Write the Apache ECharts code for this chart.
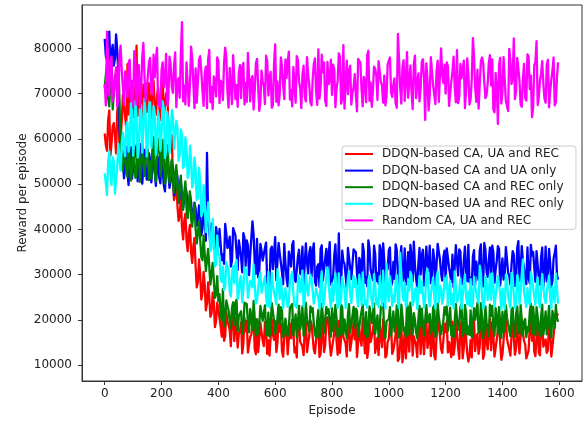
<!DOCTYPE html>
<html>
<head>
<meta charset="utf-8">
<script src="https://cdn.jsdelivr.net/npm/echarts@6/dist/echarts.min.js"></script>
<style>html,body{margin:0;padding:0;background:#fff;}#c{width:587px;height:422px;}</style>
</head>
<body>
<div id="c"></div>
<script>
// Episodes (every 8 episodes, plus the in-between samples)
const episodes = [
0,8,16,24,32,40,48,56,64,72,80,88,96,104,112,120,128,136,144,152,
160,168,176,184,192,200,208,216,224,232,240,248,256,264,272,280,288,296,304,312,
320,328,336,344,352,360,368,376,384,392,400,408,416,424,432,440,448,456,464,472,
480,488,496,504,512,520,528,536,544,552,560,568,576,584,592,600,608,616,624,632,
640,648,656,664,672,680,688,696,704,712,720,728,736,744,752,760,768,776,784,792,
800,808,816,824,832,840,848,856,864,872,880,888,896,904,912,920,928,936,944,952,
960,968,976,984,992,1000,1008,1016,1024,1032,1040,1048,1056,1064,1072,1080,1088,1096,1104,1112,
1120,1128,1136,1144,1152,1160,1168,1176,1184,1192,1200,1208,1216,1224,1232,1240,1248,1256,1264,1272,
1280,1288,1296,1304,1312,1320,1328,1336,1344,1352,1360,1368,1376,1384,1392,1400,1408,1416,1424,1432,
1440,1448,1456,1464,1472,1480,1488,1496,1504,1512,1520,1528,1536,1544,1552,1560,1568,1576,1584,1592
];
const episodesMid = [
4,12,20,28,36,44,52,60,68,76,84,92,100,108,116,124,132,140,148,156,
164,172,180,188,196,204,212,220,228,236,244,252,260,268,276,284,292,300,308,316,
324,332,340,348,356,364,372,380,388,396,404,412,420,428,436,444,452,460,468,476,
484,492,500,508,516,524,532,540,548,556,564,572,580,588,596,604,612,620,628,636,
644,652,660,668,676,684,692,700,708,716,724,732,740,748,756,764,772,780,788,796,
804,812,820,828,836,844,852,860,868,876,884,892,900,908,916,924,932,940,948,956,
964,972,980,988,996,1004,1012,1020,1028,1036,1044,1052,1060,1068,1076,1084,1092,1100,1108,1116,
1124,1132,1140,1148,1156,1164,1172,1180,1188,1196,1204,1212,1220,1228,1236,1244,1252,1260,1268,1276,
1284,1292,1300,1308,1316,1324,1332,1340,1348,1356,1364,1372,1380,1388,1396,1404,1412,1420,1428,1436,
1444,1452,1460,1468,1476,1484,1492,1500,1508,1516,1524,1532,1540,1548,1556,1564,1572,1580,1588,1596
];

// Reward values in thousands, at `episodes`
const redVals = [
61.2,57.4,66.3,59.0,63.5,56.8,67.9,60.4,69.8,64.7,
76.5,68.2,71.4,66.9,80.6,69.3,67.5,72.0,66.4,70.1,
68.0,71.8,66.6,69.5,67.2,72.6,65.1,69.9,63.2,58.7,
51.4,47.8,45.2,43.1,40.5,41.8,37.6,39.2,34.9,36.3,
31.7,28.4,30.2,25.9,27.8,23.6,25.1,21.4,23.9,19.8,
22.3,18.6,20.9,16.4,19.5,17.8,21.6,15.3,18.2,16.9,
19.4,14.7,17.5,12.8,16.2,18.9,13.6,20.1,15.8,17.1,
14.2,18.0,15.5,12.3,16.8,19.7,14.9,17.4,13.1,16.0,
18.4,12.0,15.9,17.7,13.9,20.3,15.2,14.1,17.9,12.9,
16.5,19.1,13.4,15.6,18.3,12.6,16.9,14.5,20.6,15.0,
13.7,17.2,15.4,19.8,12.4,16.3,14.8,18.6,13.2,17.0,
15.7,11.8,18.1,14.3,16.6,20.0,13.5,15.1,17.6,12.7,
16.1,19.3,14.0,17.3,12.2,15.8,18.5,13.3,16.7,10.9,
14.6,10.6,17.8,15.3,13.0,19.0,16.4,14.4,18.0,12.5,
15.9,17.5,13.8,20.4,14.7,12.1,16.2,18.8,13.6,15.5,
17.3,12.8,15.0,19.6,14.2,16.8,11.4,17.9,13.9,16.1,
10.8,15.6,18.2,13.1,16.9,14.0,19.2,12.6,15.2,17.4,
13.3,16.4,11.9,17.7,14.9,12.4,18.7,15.8,13.5,16.6,
19.5,13.8,16.0,12.2,17.1,14.6,11.3,18.3,15.4,13.0,
16.3,12.7,18.9,14.1,15.7,13.4,17.5,12.3,19.4,21.0
];
// Reward values in thousands, at `episodesMid`
const redMid = [
58.6,64.1,56.3,62.8,60.7,66.0,58.2,63.9,67.3,62.5,
65.4,72.6,64.8,71.9,65.1,73.0,64.5,71.5,65.9,72.3,
64.6,72.8,65.3,71.2,64.2,73.4,64.9,70.6,57.9,60.8,
46.5,51.6,41.9,47.0,37.8,43.5,35.2,41.0,32.6,38.1,
27.2,33.4,24.5,30.6,22.1,28.3,20.7,26.0,18.4,23.8,
22.6,16.3,15.4,21.8,18.9,14.2,21.0,20.4,13.9,17.6,
12.6,20.5,19.8,13.1,16.7,20.9,12.4,12.9,19.4,15.5,
19.5,12.5,12.1,20.1,15.6,12.9,20.4,19.2,11.9,16.2,
12.4,19.1,20.0,12.8,11.7,19.7,15.3,12.2,20.5,14.8,
19.9,19.4,12.6,15.9,11.8,20.3,12.9,19.6,19.0,12.1,
13.4,19.8,12.3,12.7,19.2,16.1,11.9,20.2,13.0,19.5,
19.1,12.0,15.8,20.4,12.6,11.6,19.9,14.9,20.3,12.4,
12.2,19.4,20.1,11.7,15.2,19.7,12.5,13.3,20.2,11.4,
19.3,13.6,11.5,19.8,20.5,12.1,16.0,11.8,19.2,19.0,
12.4,19.9,15.5,12.0,19.5,11.3,20.0,16.4,12.7,19.1,
19.7,15.1,11.8,12.3,20.2,13.8,19.4,11.5,20.1,12.6,
12.2,11.7,19.6,16.3,12.5,20.4,11.4,19.8,13.5,20.2,
19.5,11.9,15.7,20.0,11.2,12.8,20.3,14.6,12.1,19.7,
12.3,19.9,12.6,20.1,15.4,11.5,13.2,20.4,19.6,12.0,
19.8,12.2,20.0,14.3,12.7,19.4,11.9,16.6,20.6,21.4
];

const blueVals = [
82.1,77.4,83.7,79.0,76.2,83.1,74.5,58.3,54.6,56.9,
52.7,57.4,51.2,55.8,58.6,50.3,56.1,53.5,57.9,52.1,
55.3,50.8,57.2,53.9,51.4,56.7,49.8,54.2,52.5,50.6,
53.1,48.9,51.7,47.2,50.4,46.6,48.3,44.9,46.1,43.2,
44.6,41.8,43.9,40.2,42.7,56.9,39.6,41.3,37.8,40.5,
36.2,39.8,34.5,41.2,35.9,38.4,33.1,40.6,35.0,37.6,
33.8,39.2,31.9,36.5,34.2,41.8,32.6,37.9,30.8,35.3,
33.4,37.1,29.7,35.6,31.2,38.3,28.9,34.7,30.5,36.8,
29.2,35.1,31.8,37.4,28.4,33.9,30.1,36.2,27.8,32.7,
34.8,29.5,36.9,27.6,32.3,35.7,28.7,33.5,30.9,37.2,
28.1,34.3,30.6,39.1,27.3,33.0,29.8,35.9,31.5,28.6,
36.0,30.2,33.7,27.9,35.2,29.4,37.6,31.1,28.8,34.6,
30.4,36.5,28.2,33.2,31.7,35.4,27.5,32.8,36.7,29.9,
33.6,28.5,35.8,30.7,27.4,34.1,37.3,29.1,32.4,30.0,
35.5,28.0,32.0,36.4,29.6,33.3,27.7,35.0,30.3,33.8,
28.3,36.1,31.4,34.4,27.2,32.9,35.6,29.0,33.1,30.8,
36.6,29.3,34.0,27.8,32.5,35.3,28.6,37.0,30.6,33.4,
28.9,34.9,31.0,36.3,27.6,33.6,30.2,35.7,29.7,32.2,
34.5,28.4,37.4,30.9,33.0,29.3,36.0,28.1,34.2,31.6,
35.2,29.0,33.9,27.4,36.2,30.5,32.6,28.7,34.8,29.8
];
const blueMid = [
78.3,82.6,75.9,80.8,77.8,79.6,62.4,55.7,51.3,58.2,
49.8,58.2,51.5,57.3,50.6,58.9,50.1,57.6,51.0,56.8,
50.4,57.0,49.6,55.9,50.2,56.3,48.4,54.8,49.2,55.0,
47.6,53.0,45.9,50.7,44.8,49.2,43.6,47.8,42.1,45.9,
40.8,45.3,38.7,43.6,37.5,42.4,36.4,41.6,35.2,40.9,
40.1,33.2,32.4,39.0,36.5,31.8,40.3,38.7,31.0,35.8,
30.5,38.1,37.6,29.9,34.0,38.9,30.2,29.4,36.8,33.1,
35.9,28.1,27.6,36.2,31.4,28.8,37.0,35.1,27.9,32.6,
27.4,34.8,36.6,29.2,28.0,35.5,32.1,27.7,36.9,30.3,
36.1,35.2,28.5,31.8,27.3,36.5,28.9,35.7,34.4,27.8,
29.6,36.7,27.5,28.4,35.3,32.4,27.1,36.3,29.0,35.6,
34.9,27.9,32.8,36.8,28.2,27.4,35.8,30.7,36.4,28.6,
28.0,35.4,36.9,27.6,31.2,36.0,28.3,29.1,35.5,27.2,
36.3,29.4,27.8,35.0,36.6,28.5,32.0,27.3,35.9,34.2,
27.6,36.2,30.9,28.1,35.6,27.5,36.8,33.4,28.7,35.3,
35.8,31.6,28.4,27.2,36.5,29.8,35.1,27.9,36.2,28.6,
28.3,27.7,35.4,32.9,28.8,36.7,27.4,35.6,29.5,36.0,
36.4,28.2,33.1,35.7,27.3,28.9,36.1,30.4,27.8,35.2,
27.5,35.9,28.6,36.3,31.5,27.9,29.3,36.6,35.0,28.4,
35.3,27.8,36.0,30.1,28.5,35.7,27.2,33.6,36.4,28.9
];

const greenVals = [
71.3,76.4,67.2,78.0,69.8,74.5,77.4,57.1,53.0,56.4,
51.6,55.9,53.2,58.4,52.0,56.7,54.1,59.3,51.9,57.5,
55.0,58.8,52.7,56.2,60.1,53.6,57.3,51.5,55.4,53.0,
50.9,52.6,48.7,50.1,46.4,48.2,44.6,45.9,42.3,43.8,
40.1,36.8,37.9,33.2,34.6,30.5,31.9,27.4,28.8,25.6,
24.2,21.5,26.8,20.3,23.1,19.6,22.7,18.9,24.5,20.8,
21.9,18.2,23.6,19.4,22.4,17.8,24.0,20.1,18.7,22.8,
19.8,17.3,21.6,18.5,23.3,16.9,20.4,19.0,22.1,17.6,
20.7,18.1,22.5,16.6,21.2,19.3,17.9,23.0,18.4,20.0,
17.4,21.8,19.1,16.2,22.2,18.6,20.6,17.0,21.4,19.5,
22.6,17.7,20.3,18.0,23.4,16.8,19.9,21.1,17.2,20.9,
18.3,22.0,16.4,20.5,18.8,21.7,17.5,23.1,19.2,16.9,
21.0,18.4,22.9,17.1,19.7,20.2,16.5,21.9,18.9,22.3,
17.8,20.8,18.2,23.5,16.7,19.6,21.5,17.3,20.1,18.6,
22.4,16.3,19.4,21.3,17.9,23.2,18.1,20.7,16.8,19.8,
21.2,17.6,22.7,18.7,16.1,20.4,19.0,23.6,17.4,21.6,
18.5,22.1,16.6,20.0,23.8,17.7,21.0,18.3,19.5,16.4,
20.9,18.0,22.6,16.9,19.3,21.8,17.1,20.5,18.8,22.2,
17.5,21.4,19.1,23.3,16.5,20.2,18.4,21.7,17.0,19.9,
22.8,18.6,20.6,16.7,21.9,19.4,17.8,22.0,18.2,20.4
];
const greenMid = [
74.2,68.9,72.6,66.5,73.8,70.1,68.4,54.2,58.9,52.4,
59.6,50.8,58.7,51.4,60.2,50.5,59.0,51.8,58.3,50.9,
51.2,60.4,50.6,59.5,51.8,59.8,50.1,58.6,50.3,55.4,
48.1,54.2,46.0,51.9,44.3,50.6,42.5,48.4,40.6,45.7,
36.9,41.8,33.9,38.6,30.8,35.7,27.8,32.6,24.9,29.7,
25.7,19.9,18.6,24.3,22.1,18.1,23.9,23.7,17.5,21.0,
16.9,23.8,23.5,17.3,20.6,24.2,16.6,17.0,23.1,19.8,
23.2,16.6,16.3,23.7,19.8,16.9,23.4,22.8,16.2,20.3,
16.4,22.7,23.5,17.0,16.1,23.1,19.6,16.5,23.8,18.9,
23.0,22.6,16.8,19.9,16.0,23.6,17.1,22.9,22.4,16.3,
17.5,23.3,16.2,16.7,22.8,20.1,16.0,23.5,17.2,22.9,
22.5,16.4,20.4,23.4,16.9,16.1,23.0,19.3,23.6,16.6,
16.2,22.9,23.7,16.0,19.5,22.8,16.7,17.4,23.2,16.1,
23.4,17.6,16.3,22.6,23.8,16.8,20.0,16.0,23.1,22.5,
16.5,23.3,19.4,16.9,22.7,16.2,23.6,20.6,17.0,22.8,
23.0,19.7,16.6,16.1,23.5,17.8,22.9,16.4,23.3,16.8,
16.7,16.2,22.6,20.2,17.1,23.7,16.0,23.0,17.7,23.4,
23.1,16.5,20.5,22.8,16.0,17.3,23.2,19.0,16.4,22.7,
16.3,23.0,16.9,23.5,19.6,16.2,17.5,23.6,22.9,16.6,
22.8,16.4,23.4,18.8,16.8,23.1,16.1,20.7,23.3,19.6
];

const cyanVals = [
52.4,47.6,57.3,49.8,55.1,48.2,58.9,53.0,61.4,56.2,
63.8,58.7,66.2,60.1,64.9,57.6,67.5,61.7,65.3,59.4,
68.1,62.0,65.7,58.9,64.1,61.2,66.8,57.4,63.5,60.3,
65.2,58.2,62.6,56.4,60.8,54.1,57.9,52.3,55.6,50.2,
53.4,47.1,50.6,43.8,46.2,39.5,41.7,35.9,38.3,32.4,
34.6,29.2,31.8,27.5,32.9,26.3,30.4,28.1,33.2,25.9,
29.7,26.8,31.5,24.9,28.6,27.2,32.1,24.3,29.4,26.0,
28.3,25.1,30.6,23.8,27.7,26.4,31.2,24.6,28.9,25.5,
27.1,24.0,29.8,25.7,23.2,28.2,26.1,30.9,24.4,27.4,
25.3,29.1,23.6,26.9,24.8,28.5,22.9,27.0,31.6,25.0,
28.0,23.9,26.6,30.3,24.5,27.6,22.6,29.3,25.8,23.5,
27.3,25.2,30.0,23.3,26.7,24.2,28.8,25.6,22.8,27.9,
24.7,29.6,23.1,26.2,32.4,24.1,27.5,25.4,28.4,23.7,
34.8,25.9,28.1,23.4,26.5,29.9,24.3,27.2,22.7,26.0,
28.6,24.6,31.3,23.0,27.8,25.3,29.5,23.9,26.8,24.9,
27.0,23.2,28.7,25.7,30.7,24.0,26.4,22.5,28.0,25.1,
26.3,29.0,23.6,27.3,24.7,32.0,25.4,23.3,28.3,26.1,
24.4,27.7,23.0,29.7,25.8,26.9,22.4,28.6,24.9,30.4,
25.6,23.8,28.9,26.2,33.4,24.5,27.1,23.4,29.2,25.2,
27.8,24.1,26.6,30.1,23.7,28.2,25.0,27.4,23.9,26.9
];
const cyanMid = [
50.1,54.8,52.6,56.0,47.9,53.7,55.4,59.2,57.8,62.9,
57.2,67.8,56.3,68.4,55.9,66.7,57.0,68.9,56.1,67.3,
58.0,67.2,56.5,66.0,57.4,68.3,55.8,65.9,56.9,66.4,
57.8,64.0,55.2,62.1,53.6,60.4,51.4,58.5,49.3,55.9,
46.5,53.6,42.9,49.8,39.4,46.0,35.2,42.3,31.8,38.7,
34.1,28.4,26.6,32.8,31.0,25.2,31.9,32.4,24.6,28.9,
23.9,31.7,30.8,24.5,27.9,32.2,23.6,24.0,30.5,27.4,
29.6,23.1,22.8,30.4,26.2,23.5,31.0,29.2,22.6,27.0,
22.9,28.8,30.6,23.4,22.7,29.9,26.8,23.0,30.2,25.4,
30.0,29.1,23.2,26.5,22.5,30.7,23.6,29.4,28.6,22.8,
24.1,30.3,22.6,23.3,29.5,26.9,22.4,30.8,23.7,29.7,
28.9,23.0,27.2,30.5,23.4,22.7,29.8,25.6,30.1,23.5,
22.8,29.3,30.9,22.5,26.1,29.6,23.1,24.0,29.9,22.6,
30.2,24.3,22.9,29.0,30.6,23.3,26.6,22.4,29.7,28.5,
22.7,30.1,25.8,23.2,29.4,22.5,30.7,27.5,23.6,29.2,
29.8,26.3,23.4,22.6,30.4,24.6,29.1,22.9,30.0,23.5,
23.1,22.8,29.5,27.3,23.7,30.5,22.5,29.6,24.4,30.1,
30.3,23.0,27.6,29.7,22.4,23.8,30.0,25.2,22.7,29.3,
22.6,29.9,23.5,30.2,26.0,22.9,24.2,30.6,29.1,23.3,
29.4,22.8,30.1,24.9,23.4,29.8,22.5,27.8,30.3,23.6
];

const magentaVals = [
72.1,83.7,69.5,78.2,70.4,75.8,68.9,80.6,71.3,74.9,
69.2,77.5,72.8,79.4,67.6,76.3,70.9,81.2,68.4,74.1,
77.9,69.8,73.6,80.1,67.9,75.2,71.4,78.8,68.7,76.4,
70.2,79.1,72.6,69.1,85.8,71.8,76.9,67.3,80.4,72.2,
75.6,68.2,78.3,70.7,74.4,66.8,79.7,71.5,73.8,69.4,
77.2,72.9,68.6,80.2,70.3,75.7,67.7,78.6,71.9,74.6,
69.0,76.8,72.4,79.0,68.3,73.9,70.6,77.7,66.2,75.1,
71.7,78.4,69.6,74.8,67.5,80.9,72.7,70.0,76.1,68.8,
73.5,79.3,70.8,75.9,68.0,77.4,71.2,74.2,69.3,78.1,
72.0,67.4,76.6,70.5,79.8,71.6,74.7,68.5,77.0,73.1,
69.7,75.4,71.1,78.9,67.8,80.7,72.3,69.9,76.2,70.1,
74.3,66.1,77.8,71.0,73.7,68.1,79.5,72.5,70.6,75.5,
68.6,77.1,71.9,74.0,69.5,76.7,70.2,72.0,67.9,83.2,
71.4,75.8,68.4,79.2,72.8,70.4,76.5,69.0,74.5,71.3,
77.6,64.2,73.2,69.8,78.5,71.7,75.0,68.2,80.0,72.4,
70.0,76.0,67.2,74.9,71.5,79.6,69.4,73.4,77.3,70.8,
74.1,68.9,82.3,71.2,75.3,67.0,78.0,72.6,69.7,76.8,
71.8,66.5,74.6,63.3,77.9,70.3,73.0,68.3,79.9,72.1,
82.2,70.7,75.6,67.6,73.3,69.1,78.7,71.0,64.8,76.3,
81.6,69.3,74.4,72.2,68.0,77.5,70.5,75.1,67.4,73.9
];
const magentaMid = [
67.4,77.9,76.8,68.2,73.0,67.1,78.3,75.2,67.6,72.5,
76.8,68.5,67.3,77.6,72.2,66.9,78.0,73.8,68.1,77.1,
70.5,78.6,77.4,67.8,66.9,76.9,73.1,67.5,78.2,71.6,
76.1,67.0,73.4,78.7,68.3,67.6,77.2,72.0,77.8,66.8,
68.0,77.5,74.9,67.3,76.0,77.6,68.1,66.6,72.8,78.0,
67.9,72.4,76.7,77.9,66.9,71.8,78.5,68.8,67.1,76.3,
75.8,67.6,68.2,78.8,73.1,66.5,76.6,77.9,68.4,72.7,
67.7,77.2,73.5,66.9,76.5,68.2,67.4,78.0,71.9,77.6,
77.0,68.7,67.2,75.6,78.3,72.6,66.8,76.2,68.3,74.4,
68.1,73.2,77.8,67.5,68.9,78.6,76.9,67.3,72.1,77.5,
76.4,67.0,72.9,78.2,68.8,66.7,77.3,75.0,67.6,71.4,
69.6,77.7,76.8,67.2,72.6,78.5,68.4,67.1,76.0,73.9,
77.2,72.5,68.0,67.4,76.5,78.0,69.3,73.4,66.9,77.6,
67.8,77.4,73.0,69.1,76.2,66.6,78.4,72.3,68.3,77.0,
73.6,76.7,66.3,78.1,71.8,67.7,77.3,68.6,74.1,76.4,
76.9,67.3,72.7,78.2,68.1,67.9,76.6,73.8,66.8,77.8,
67.6,73.3,78.0,68.2,66.7,77.1,76.8,69.0,72.2,78.5,
77.6,65.9,71.5,76.3,67.8,78.1,68.4,66.2,77.3,73.7,
68.8,77.9,72.8,67.1,76.6,68.5,78.2,74.0,66.9,77.0,
67.5,72.9,77.2,68.9,76.4,67.0,73.1,78.0,68.1,76.9
];

const seriesNames = [
  'DDQN-based CA, UA and REC',
  'DDQN-based CA and UA only',
  'DDQN-based CA and REC only',
  'DDQN-based UA and REC only',
  'Random CA, UA and REC'
];
const seriesColors = ['#ff0000', '#0000ff', '#008000', '#00ffff', '#ff00ff'];
const seriesValues = [redVals, blueVals, greenVals, cyanVals, magentaVals];
const seriesMidValues = [redMid, blueMid, greenMid, cyanMid, magentaMid];

const xTicks = [0, 200, 400, 600, 800, 1000, 1200, 1400, 1600];
const yTicks = [10000, 20000, 30000, 40000, 50000, 60000, 70000, 80000];

const FONT = 'DejaVu Sans';
const chart = echarts.init(document.getElementById('c'), null, {renderer: 'canvas'});

function buildData(vals, mids) {
  const out = [];
  for (let i = 0; i < vals.length; i++) {
    out.push([episodes[i], vals[i] * 1000]);
    out.push([episodesMid[i], mids[i] * 1000]);
  }
  return out;
}

const series = seriesValues.map((vals, k) => ({
  name: seriesNames[k],
  type: 'line',
  data: buildData(vals, seriesMidValues[k]),
  showSymbol: false,
  symbol: 'none',
  sampling: null,
  lineStyle: {color: seriesColors[k], width: 2.3, join: 'round', cap: 'butt'},
  itemStyle: {color: seriesColors[k]},
  emphasis: {disabled: true},
  z: 2 + k
}));

chart.setOption({
  animation: false,
  backgroundColor: '#ffffff',
  textStyle: {fontFamily: FONT},
  grid: {left: 82, right: 5, top: 5, bottom: 41, show: true, borderColor: '#333', borderWidth: 1, backgroundColor: 'transparent'},
  xAxis: {
    type: 'value', min: -80, max: 1680,
    name: 'Episode', nameLocation: 'middle', nameGap: 24,
    nameTextStyle: {fontFamily: FONT, fontSize: 12, color: '#222'},
    axisLine: {show: true, onZero: false, lineStyle: {color: '#333', width: 1}},
    axisTick: {show: true, inside: false, length: 4, lineStyle: {color: '#333'}, customValues: xTicks},
    axisLabel: {show: true, margin: 7, fontFamily: FONT, fontSize: 12, color: '#222', customValues: xTicks,
      formatter: v => String(v)},
    splitLine: {show: false}
  },
  yAxis: {
    type: 'value', min: 6500, max: 89600,
    name: 'Reward per episode', nameLocation: 'middle', nameGap: 53, nameRotate: 90,
    nameMoveOverlap: false,
    nameTextStyle: {fontFamily: FONT, fontSize: 12, color: '#222'},
    axisLine: {show: true, onZero: false, lineStyle: {color: '#333', width: 1}},
    axisTick: {show: true, inside: false, length: 4, lineStyle: {color: '#333'}, customValues: yTicks},
    axisLabel: {show: true, margin: 10, fontFamily: FONT, fontSize: 12, color: '#222', customValues: yTicks,
      formatter: v => String(v)},
    splitLine: {show: false}
  },
  legend: {
    orient: 'vertical',
    left: 342, top: 146,
    padding: [2, 12, 3, 3],
    itemWidth: 28, itemHeight: 14, itemGap: 4.6,
    icon: 'path://M0,0L14,0L14,1L0,1Z',
    backgroundColor: 'rgba(255,255,255,0.8)',
    borderColor: '#cccccc', borderWidth: 1, borderRadius: 3,
    textStyle: {fontFamily: FONT, fontSize: 12, color: '#222', padding: [0, 0, 0, 4]},
    selectedMode: false,
    data: seriesNames.map((n, k) => ({name: n, itemStyle: {color: seriesColors[k]}}))
  },
  series: series
});
</script>
</body>
</html>
